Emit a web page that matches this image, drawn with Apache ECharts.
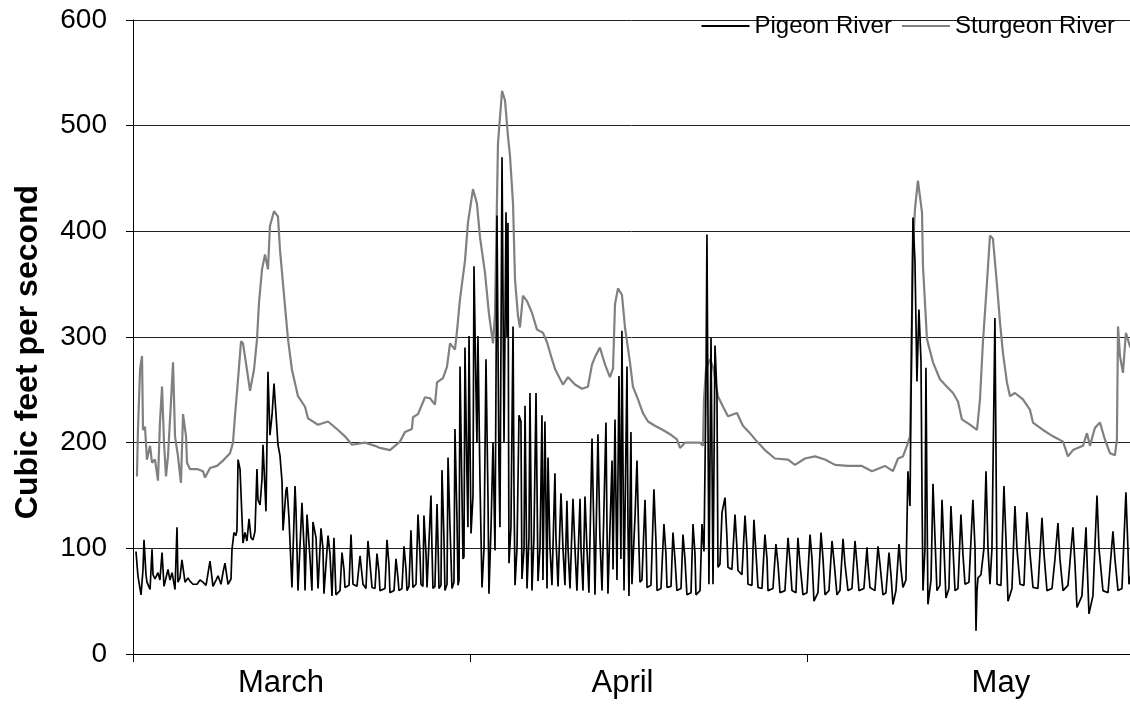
<!DOCTYPE html>
<html><head><meta charset="utf-8">
<script src="https://cdn.jsdelivr.net/npm/echarts@6/dist/echarts.min.js"></script>
<style>html,body{margin:0;padding:0;background:#fff}#c{width:1130px;height:706px}</style>
</head><body><div id="c"></div>
<script>
// Month labels and where they sit (days since 1 March)
const monthLabels = ['March', 'April', 'May'];
const monthLabelDays = [13.45, 44.5, 78.9];
const monthTickDays = [0, 30.68, 61.27];

// Pigeon River discharge, [day, cfs]
const pigeonMarch = [[0.27,97],[0.45,74],[0.73,56],[0.91,80],[1.00,108],[1.18,75],[1.27,68],[1.55,61],[1.73,99],[1.82,75],[2.00,71],[2.27,77],[2.45,70],[2.64,96],[2.82,64],[3.00,72],[3.18,80],[3.36,70],[3.55,77],[3.82,61],[4.00,120],[4.09,68],[4.27,72],[4.45,89],[4.73,68],[5.00,72],[5.18,69],[5.45,66],[5.82,66],[6.09,70],[6.36,68],[6.64,65],[7.00,88],[7.27,64],[7.55,70],[7.73,74],[8.00,66],[8.18,77],[8.36,86],[8.64,66],[8.91,71],[9.00,99],[9.18,115],[9.36,112],[9.45,117],[9.55,184],[9.73,175],[10.00,105],[10.18,115],[10.36,107],[10.55,128],[10.73,110],[10.91,108],[11.09,116],[11.27,175],[11.36,146],[11.55,141],[11.73,166],[11.82,198],[12.09,135],[12.27,267],[12.45,207],[12.64,226],[12.82,256],[13.00,255],[13.18,198],[13.36,188],[13.55,163],[13.64,117],[13.91,155],[14.00,158],[14.18,129],[14.45,63],[14.73,159],[14.82,136],[15.00,60],[15.36,143],[15.55,101],[15.64,60],[15.82,132],[16.09,91],[16.27,60],[16.36,125],[16.64,110],[16.82,62],[17.09,119],[17.27,100],[17.36,57],[17.73,112],[17.91,95],[18.09,55],[18.27,110],[18.45,56],[18.82,60],[19.00,96],[19.18,80],[19.27,63],[19.64,65],[19.82,113],[19.91,90],[20.00,66],[20.36,64],[20.64,93],[20.82,75],[20.91,66],[21.18,62],[21.36,107],[21.55,85],[21.73,63],[22.00,62],[22.18,95],[22.36,78],[22.45,60],[22.91,62],[23.09,108],[23.27,85],[23.36,58],[23.73,60],[23.91,90],[24.09,72],[24.18,60],[24.45,62],[24.64,102],[24.82,80],[24.91,60],[25.09,64],[25.27,117],[25.36,90],[25.45,63],[25.73,66],[25.91,132],[26.09,95],[26.18,66],[26.36,64],[26.45,131],[26.64,95],[26.73,63],[26.91,64],[27.09,150],[27.18,100],[27.27,62],[27.45,64],[27.64,142],[27.73,105],[27.82,62],[28.00,65],[28.09,174],[28.27,110],[28.36,60],[28.55,66],[28.64,186],[28.82,120],[29.00,62],[29.18,68],[29.27,213],[29.45,130],[29.55,65],[29.64,70],[29.73,272],[29.91,150],[30.00,90],[30.09,92],[30.18,290],[30.36,170],[30.45,120],[30.55,301]];
const pigeonApril = [[30.64,200],[30.73,114],[30.91,150],[31.00,367],[31.18,250],[31.27,200],[31.36,301],[31.55,160],[31.73,63],[31.91,100],[32.09,279],[32.27,150],[32.36,57],[32.55,120],[32.73,200],[32.91,98],[33.09,415],[33.27,180],[33.36,120],[33.55,470],[33.73,200],[33.91,418],[34.00,300],[34.09,408],[34.18,86],[34.36,120],[34.55,310],[34.64,150],[34.73,65],[34.91,100],[35.09,226],[35.27,220],[35.36,71],[35.55,100],[35.64,235],[35.82,62],[36.00,110],[36.09,247],[36.27,60],[36.45,110],[36.64,247],[36.82,69],[37.00,100],[37.18,226],[37.27,70],[37.45,220],[37.64,62],[37.73,186],[37.91,100],[38.09,65],[38.36,171],[38.45,110],[38.64,64],[38.91,152],[39.09,100],[39.27,65],[39.45,145],[39.55,100],[39.73,62],[40.00,147],[40.18,100],[40.36,60],[40.64,147],[40.73,100],[40.91,60],[41.09,149],[41.27,100],[41.45,58],[41.73,204],[41.91,110],[42.00,56],[42.27,208],[42.45,110],[42.64,60],[43.00,219],[43.09,120],[43.18,57],[43.55,183],[43.64,80],[43.82,222],[44.00,70],[44.18,263],[44.36,90],[44.45,306],[44.64,60],[44.91,272],[45.00,120],[45.09,55],[45.27,210],[45.36,66],[45.64,130],[45.82,183],[46.00,100],[46.09,68],[46.27,70],[46.55,146],[46.64,110],[46.73,63],[47.09,65],[47.36,156],[47.55,105],[47.64,60],[48.00,62],[48.27,123],[48.45,95],[48.55,63],[48.91,64],[49.09,115],[49.27,90],[49.45,60],[49.82,62],[50.00,113],[50.18,90],[50.36,56],[50.73,58],[50.91,123],[51.09,95],[51.18,56],[51.55,60],[51.73,123],[51.91,97],[52.09,252],[52.18,397],[52.36,66],[52.55,299],[52.73,66],[52.91,292],[53.09,246],[53.18,82],[53.36,85],[53.55,134],[53.82,148],[54.00,110],[54.09,82],[54.45,80],[54.73,132],[54.91,100],[55.00,79],[55.36,75],[55.64,131],[55.82,100],[55.91,66],[56.27,65],[56.45,127],[56.64,95],[56.82,63],[57.18,62],[57.45,113],[57.64,90],[57.73,60],[58.18,62],[58.45,104],[58.64,85],[58.82,58],[59.27,60],[59.55,110],[59.73,88],[59.91,60],[60.27,58],[60.45,110],[60.64,85],[60.91,56],[61.27,58]];
const pigeonMay = [[61.55,113],[61.73,90],[61.91,50],[62.27,58],[62.55,115],[62.73,90],[62.91,56],[63.27,60],[63.55,107],[63.73,88],[64.00,56],[64.27,60],[64.55,109],[64.73,85],[65.00,60],[65.36,62],[65.64,107],[65.82,85],[66.00,60],[66.45,62],[66.73,101],[66.82,85],[67.00,63],[67.45,60],[67.73,102],[67.91,85],[68.18,56],[68.45,58],[68.73,96],[68.91,75],[69.09,47],[69.36,60],[69.64,104],[69.82,80],[70.00,63],[70.27,70],[70.45,173],[70.64,140],[70.73,239],[70.91,413],[71.09,372],[71.27,258],[71.45,326],[71.64,277],[71.73,150],[71.82,60],[72.00,100],[72.09,271],[72.18,150],[72.27,47],[72.55,70],[72.73,161],[72.91,110],[73.09,60],[73.36,65],[73.55,146],[73.73,100],[73.91,53],[74.18,62],[74.36,140],[74.55,100],[74.73,60],[75.00,62],[75.27,132],[75.45,95],[75.64,66],[76.00,68],[76.36,146],[76.55,100],[76.64,22],[76.73,60],[76.82,72],[77.09,75],[77.36,100],[77.55,173],[77.73,100],[77.91,66],[78.09,100],[78.36,318],[78.45,200],[78.55,66],[78.91,65],[79.18,159],[79.36,110],[79.55,50],[79.91,62],[80.18,140],[80.36,100],[80.64,66],[81.00,65],[81.27,134],[81.55,95],[81.82,63],[82.27,62],[82.64,129],[82.82,95],[83.09,60],[83.55,62],[83.82,90],[84.09,124],[84.27,90],[84.55,60],[85.00,65],[85.45,120],[85.64,85],[85.82,44],[86.27,55],[86.64,120],[86.73,90],[86.91,38],[87.27,55],[87.64,150],[87.82,100],[88.18,60],[88.64,58],[89.09,116],[89.27,90],[89.55,60],[89.91,62],[90.27,153],[90.45,100],[90.55,66],[90.73,75],[91.00,80]];

// Sturgeon River discharge, [day, cfs]
const sturgeonMarch = [[0.36,168],[0.45,212],[0.64,269],[0.82,282],[0.91,212],[1.09,215],[1.27,184],[1.55,197],[1.73,181],[2.00,184],[2.27,164],[2.45,219],[2.64,253],[2.82,200],[3.00,168],[3.18,187],[3.45,238],[3.64,276],[3.82,206],[4.09,187],[4.36,162],[4.55,227],[4.82,206],[4.91,181],[5.18,175],[5.82,175],[6.36,173],[6.55,167],[7.00,176],[7.64,178],[8.18,183],[8.82,190],[9.09,200],[9.27,225],[9.55,260],[9.82,296],[10.00,294],[10.36,269],[10.64,249],[11.00,269],[11.27,297],[11.45,332],[11.73,364],[12.00,378],[12.27,364],[12.45,405],[12.82,419],[13.18,414],[13.36,383],[13.82,329],[14.09,298],[14.45,269],[15.00,244],[15.64,234],[15.91,223],[16.82,217],[17.73,220],[18.64,212],[19.27,206],[19.91,198],[21.09,200],[22.00,197],[22.45,195],[23.36,193],[24.27,201],[24.73,210],[25.36,213],[25.45,224],[25.91,227],[26.55,243],[27.00,242],[27.45,236],[27.64,257],[28.18,261],[28.55,272],[28.82,294],[29.27,288],[29.45,305],[29.73,336],[30.18,372],[30.45,408]];
const sturgeonApril = [[30.91,440],[31.27,426],[31.55,394],[32.00,361],[32.36,322],[32.73,294],[32.91,322],[33.18,483],[33.55,533],[33.82,524],[34.09,490],[34.27,472],[34.55,426],[34.73,354],[35.00,320],[35.18,309],[35.45,339],[35.82,334],[36.27,323],[36.73,307],[37.27,304],[37.64,295],[38.09,279],[38.36,270],[38.64,264],[39.09,255],[39.55,262],[40.18,255],[40.82,251],[41.36,253],[41.73,274],[42.00,281],[42.45,290],[42.91,274],[43.36,262],[43.64,270],[43.82,331],[44.09,346],[44.45,340],[44.73,309],[45.18,276],[45.45,253],[45.91,241],[46.36,228],[46.82,220],[47.45,216],[48.18,212],[48.82,208],[49.45,203],[49.73,195],[50.18,200],[50.91,200],[51.55,200],[51.82,197],[51.91,241],[52.09,269],[52.45,279],[52.73,272],[53.18,244],[53.64,234],[54.09,225],[54.91,228],[55.45,216],[56.09,209],[56.73,201],[57.45,193],[58.36,185],[59.55,184],[60.18,179],[61.09,185]];
const sturgeonMay = [[62.00,187],[62.91,184],[63.82,179],[65.00,178],[66.27,178],[67.18,173],[68.36,178],[69.09,173],[69.55,185],[70.00,187],[70.36,197],[70.64,206],[70.73,257],[70.82,320],[70.91,383],[71.09,421],[71.36,448],[71.73,418],[71.82,367],[72.18,298],[72.73,276],[73.36,260],[74.00,253],[74.55,247],[75.00,239],[75.36,222],[76.09,217],[76.73,212],[77.00,241],[77.27,295],[77.64,352],[77.91,396],[78.18,393],[78.55,349],[78.82,314],[79.09,285],[79.45,257],[79.73,244],[80.18,247],[80.91,241],[81.55,231],[81.82,219],[82.73,212],[83.64,206],[84.55,201],[85.00,187],[85.45,193],[86.36,197],[86.73,209],[87.00,197],[87.45,214],[87.91,219],[88.36,203],[88.82,190],[89.27,188],[89.45,203],[89.55,310],[89.73,282],[90.00,266],[90.27,304],[90.64,291],[91.00,285]];

const pigeon = pigeonMarch.concat(pigeonApril, pigeonMay);
const sturgeon = sturgeonMarch.concat(sturgeonApril, sturgeonMay);

const FONT = 'Liberation Sans, Arial, sans-serif';
const chart = echarts.init(document.getElementById('c'), null, {renderer: 'canvas'});
chart.setOption({
  animation: false,
  backgroundColor: '#fff',
  grid: {left: 133, right: 0, top: 20, bottom: 52, containLabel: false},
  legend: {
    data: ['Pigeon River', 'Sturgeon River'],
    right: 10, top: 9,
    icon: 'rect', itemWidth: 48, itemHeight: 2, itemGap: 10,
    textStyle: {fontFamily: FONT, fontSize: 24, color: '#000'}
  },
  xAxis: {
    type: 'value', min: 0, max: 90.64,
    axisLine: {show: true, onZero: false, lineStyle: {color: '#000', width: 1}},
    axisTick: {show: true, customValues: monthTickDays, length: 8, lineStyle: {color: '#000'}},
    axisLabel: {
      customValues: monthLabelDays, margin: 14,
      fontFamily: FONT, fontSize: 31, color: '#000',
      formatter: function (v) {
        const i = monthLabelDays.findIndex(function (d) { return Math.abs(d - v) < 0.01; });
        return i >= 0 ? monthLabels[i] : '';
      }
    },
    splitLine: {show: false}
  },
  yAxis: {
    type: 'value', min: 0, max: 600, interval: 100,
    axisLine: {show: true, onZero: false, lineStyle: {color: '#000', width: 1}},
    axisTick: {show: true, length: 7, lineStyle: {color: '#000'}},
    axisLabel: {fontFamily: FONT, fontSize: 28, color: '#000', margin: 26},
    splitLine: {show: true, lineStyle: {color: '#222', width: 1}}
  },
  graphic: [{
    type: 'text', x: 28, y: 352, rotation: Math.PI / 2,
    style: {text: 'Cubic feet per second', font: 'bold 32px ' + FONT, fill: '#000', align: 'center', verticalAlign: 'middle'}
  }],
  series: [
    {name: 'Sturgeon River', type: 'line', data: sturgeon, symbol: 'none', showSymbol: false,
     lineStyle: {color: '#808080', width: 2.2}, itemStyle: {color: '#808080'}, z: 2},
    {name: 'Pigeon River', type: 'line', data: pigeon, symbol: 'none', showSymbol: false,
     lineStyle: {color: '#000', width: 1.7}, itemStyle: {color: '#000'}, z: 3}
  ]
});
</script>
</body></html>
